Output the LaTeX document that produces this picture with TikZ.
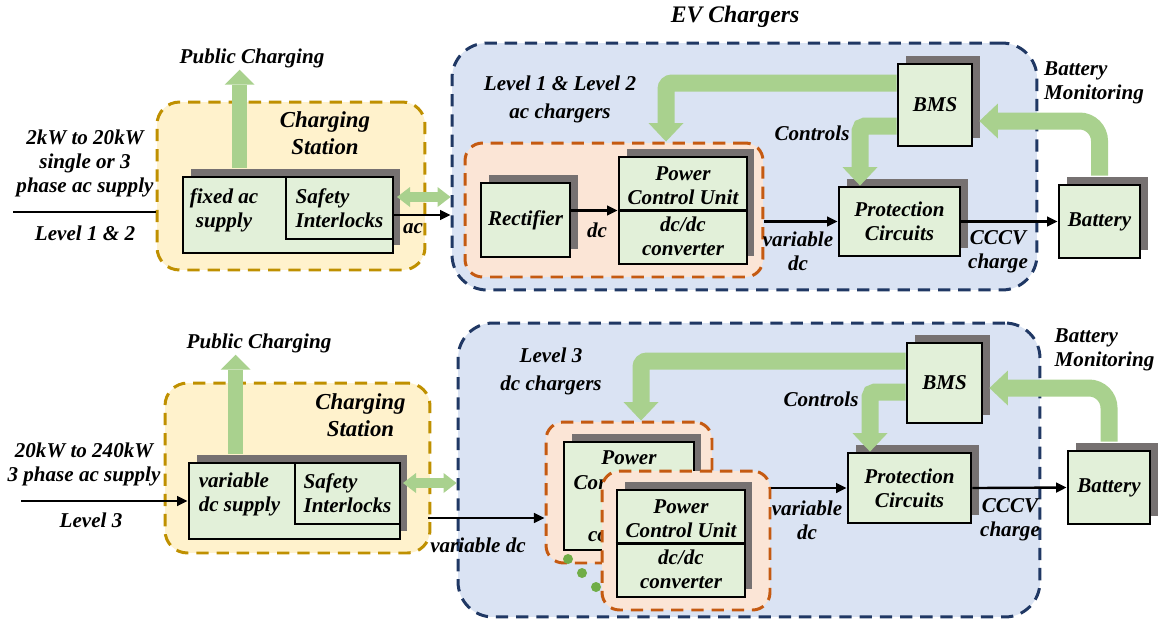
\documentclass[tikz,border=0pt]{standalone}
\usepackage{fontspec}
\setmainfont{Liberation Serif}
\usetikzlibrary{arrows.meta,shadows,calc,positioning}
\definecolor{evblue}{HTML}{DAE3F3}
\definecolor{evnavy}{HTML}{203864}
\definecolor{styellow}{HTML}{FFF2CC}
\definecolor{stgold}{HTML}{BF9000}
\definecolor{cvorange}{HTML}{FBE5D6}
\definecolor{cvrust}{HTML}{C55A11}
\definecolor{blkgreen}{HTML}{E2F0D9}
\definecolor{blkshadow}{HTML}{767171}
\definecolor{arrgreen}{HTML}{A9D18E}
\definecolor{dotgreen}{HTML}{70AD47}
\tikzset{
    txt/.style={inner sep=1pt, align=center, font=\fontsize{12}{13.5}\selectfont\bfseries\itshape},
    big/.style={font=\fontsize{13}{15.3}\selectfont\bfseries\itshape},
    grptxt/.style={font=\fontsize{12}{16}\selectfont\bfseries\itshape},
    grp/.style={shape=rectangle, dash pattern=on 7pt off 4.5pt, line width=1.7pt, rounded corners=#1},
    evbox/.style={grp=0.7cm, draw=evnavy, fill=evblue},
    stbox/.style={grp=0.45cm, draw=stgold, fill=styellow},
    cvbox/.style={grp=0.35cm, draw=cvrust, fill=cvorange},
    blk/.style={txt, draw, line width=1.6pt, fill=blkgreen,
        general shadow={fill=blkshadow, shadow xshift=0.15cm, shadow yshift=0.16cm}},
    inblk/.style={txt, draw, line width=1.6pt, align=left, anchor=north east},
    sig/.style={line width=1.35pt, -{Triangle[length=6pt, width=5.5pt]}},
    garrow/.style={draw=arrgreen, line width=0.34cm, -{Triangle[length=0.37cm, width=0.7cm, line width=0pt]}},
    gup/.style={draw=arrgreen, line width=0.3cm, -{Triangle[length=0.3cm, width=0.6cm, line width=0pt]}},
    gdouble/.style={draw=arrgreen, line width=0.2cm,
        {Triangle[length=0.26cm, width=0.4cm, line width=0pt]}-{Triangle[length=0.26cm, width=0.4cm, line width=0pt]}},
}
\begin{document}
\begin{tikzpicture}[x=0.02cm, y=-0.02cm]
    \useasboundingbox (0,0) rectangle (1158,623);

    % level 1 & 2
    \node[evbox, minimum width=11.7cm, minimum height=4.94cm] (evbox1) at (744.5,166.5) {};
    \node[stbox, minimum width=5.36cm, minimum height=3.36cm] (stbox1) at (291,186) {};
    \node[cvbox, minimum width=5.96cm, minimum height=2.68cm] (cvbox1) at (614,210) {};

    \node[txt, font=\fontsize{13.5}{15}\selectfont\bfseries\itshape] (title) at (735,17) {EV Chargers};
    \node[txt] (pub1) at (252,58) {Public Charging};
    \node[txt, big] (chst1) at (325,133.5) {Charging\\Station};
    \node[txt, grptxt] (lvl1) at (560,99) {Level 1 \& Level 2\\ac chargers};
    \node[txt] (supply1) at (85,163.5) {2kW to 20kW\\single or 3\\phase ac supply};
    \node[txt] (lv1) at (85,233) {Level 1 \& 2};

    \node[blk, minimum width=4.2cm, minimum height=1.52cm] (fixed1) at (288,215) {};
    \node[txt] (fixedtxt1) at (224,210) {fixed ac\\supply};
    \node[inblk, minimum width=2.14cm, minimum height=1.24cm] (safety1) at (fixed1.north east) {Safety\\Interlocks};

    \node[blk, minimum width=1.78cm, minimum height=1.48cm] (rect1) at (525.5,220) {Rectifier};
    \node[blk, minimum width=2.56cm, minimum height=2.14cm] (pcu1) at (683,210.5) {};
    \draw[line width=1.6pt] (pcu1.west) -- (pcu1.east);
    \node[txt] (pcu1a) at ([yshift=0.5cm]pcu1.center) {Power\\Control Unit};
    \node[txt] (pcu1b) at ([yshift=-0.52cm]pcu1.center) {dc/dc\\converter};
    \node[blk, minimum width=2.42cm, minimum height=1.38cm] (prot1) at (899.5,221.5) {Protection\\Circuits};
    \node[blk, minimum width=1.48cm, minimum height=1.64cm] (bms1) at (935,105) {BMS};
    \node[blk, minimum width=1.62cm, minimum height=1.46cm] (bat1) at (1099.5,221.5) {Battery};

    \coordinate (in1) at (13,212);
    \draw[line width=1.35pt] (in1) -- (in1 -| stbox1.west);
    \draw[sig] (fixed1.east) -- (fixed1.east -| evbox1.west);
    \node[txt] (ac1) at (413,229) {ac};
    \coordinate (dbl1) at (397,197);
    \draw[gdouble] (dbl1) -- (dbl1 -| evbox1.west);
    \draw[sig] (rect1.east |- pcu1.west) -- (pcu1.west);
    \node[txt] (dc1) at (597,230) {dc};
    \draw[sig] (cvbox1.east |- prot1.west) -- (prot1.west);
    \node[txt] (var1) at (798,251.5) {variable\\dc};
    \draw[sig] (prot1.east) -- (bat1.west);
    \node[txt] (cccv1) at (998,251.5) {CCCV\\charge};

    \coordinate (up1) at ([xshift=1.16cm, yshift=0.16cm]fixed1.north west);
    \draw[gup] (up1) -- (up1 |- pub1.south);
    \coordinate (ctl1) at ([xshift=-0.79cm]prot1.north);
    \draw[garrow, rounded corners=0.1cm] ([yshift=-0.42cm]bms1.west) -| (ctl1);
    \node[txt] (ctrl1) at (812,133) {Controls};
    \coordinate (pc1) at ([xshift=-0.34cm]pcu1.north);
    \draw[garrow, rounded corners=0.12cm] ([yshift=0.44cm]bms1.west) -| (pc1 |- cvbox1.north);
    \coordinate (mon1) at ([yshift=0.16cm]bat1.north);
    \draw[garrow, rounded corners=0.4cm] (mon1) |- ([xshift=0.12cm, yshift=-0.32cm]bms1.east);
    \node[txt, align=left] (batmon1) at (1094,82.5) {Battery\\Monitoring};

    % level 3
    \node[evbox, minimum width=11.64cm, minimum height=5.88cm] (evbox2) at (749,470) {};
    \node[stbox, minimum width=5.3cm, minimum height=3.4cm] (stbox2) at (297.5,468) {};

    \node[txt] (pub2) at (259,343) {Public Charging};
    \node[txt, big] (chst2) at (360.5,415) {Charging\\Station};
    \node[txt, grptxt] (lvl2) at (551,371) {Level 3\\dc chargers};
    \node[txt] (supply2) at (84,464.5) {20kW to 240kW\\3 phase ac supply};
    \node[txt] (lv2) at (91,520) {Level 3};

    \node[blk, minimum width=4.22cm, minimum height=1.52cm] (vdc2) at (294.5,501) {};
    \node[txt, align=left] (vdctxt2) at (239.5,494.5) {variable\\dc supply};
    \node[inblk, minimum width=2.1cm, minimum height=1.22cm] (safety2) at (vdc2.north east) {Safety\\Interlocks};

    \node[cvbox, minimum width=3.32cm, minimum height=2.82cm] (cvbox2a) at (629,492.5) {};
    \node[blk, font=\fontsize{12}{14.7}\selectfont\bfseries\itshape, minimum width=2.6cm, minimum height=2.16cm] (pcu2a) at (629,496) {Power\\Control Unit\\dc/dc\\converter};
    \foreach \i/\x/\y in {1/568/559, 2/582/573, 3/596/587}
        \node[circle, fill=dotgreen, inner sep=0pt, minimum size=0.2cm] (dot\i) at (\x,\y) {};
    \node[cvbox, minimum width=3.36cm, minimum height=2.78cm] (cvbox2b) at (686,540.5) {};
    \node[blk, minimum width=2.56cm, minimum height=2.14cm] (pcu2b) at (681,543.5) {};
    \draw[line width=1.6pt] (pcu2b.west) -- (pcu2b.east);
    \node[txt] (pcu2c) at ([yshift=0.5cm]pcu2b.center) {Power\\Control Unit};
    \node[txt] (pcu2d) at ([yshift=-0.52cm]pcu2b.center) {dc/dc\\converter};
    \node[blk, minimum width=2.46cm, minimum height=1.4cm] (prot2) at (909.5,488) {Protection\\Circuits};
    \node[blk, minimum width=1.5cm, minimum height=1.6cm] (bms2) at (944.5,383) {BMS};
    \node[blk, minimum width=1.64cm, minimum height=1.46cm] (bat2) at (1109,487.5) {Battery};

    \coordinate (in2) at (21,501);
    \draw[sig] (in2) -- (vdc2.west);
    \coordinate (dbl2) at (403,483);
    \draw[gdouble] (dbl2) -- (dbl2 -| evbox2.west);
    \coordinate (var2) at (428,518);
    \draw[sig] (var2) -- (var2 -| cvbox2a.west);
    \node[txt] (vardc2) at (478,545) {variable dc};
    \draw[sig] (cvbox2b.east |- prot2.west) -- (prot2.west);
    \node[txt] (var3) at (807,520) {variable\\dc};
    \draw[sig] (prot2.east) -- (bat2.west);
    \node[txt] (cccv2) at (1010,520) {CCCV\\charge};

    \coordinate (up2) at ([xshift=0.96cm, yshift=0.16cm]vdc2.north west);
    \draw[gup] (up2) -- (up2 |- pub2.south);
    \coordinate (ctl2) at ([xshift=-0.79cm]prot2.north);
    \draw[garrow, rounded corners=0.1cm] ([yshift=-0.18cm]bms2.west) -| (ctl2);
    \node[txt] (ctrl2) at (821,399) {Controls};
    \coordinate (pc2) at ([xshift=0.24cm]pcu2a.north);
    \draw[garrow, rounded corners=0.12cm] ([yshift=0.44cm]bms2.west) -| (pc2 |- cvbox2a.north);
    \coordinate (mon2) at ([yshift=0.16cm]bat2.north);
    \draw[garrow, rounded corners=0.4cm] (mon2) |- ([xshift=0.12cm, yshift=-0.1cm]bms2.east);
    \node[txt, align=left] (batmon2) at (1104.5,349.5) {Battery\\Monitoring};
\end{tikzpicture}
\end{document}
